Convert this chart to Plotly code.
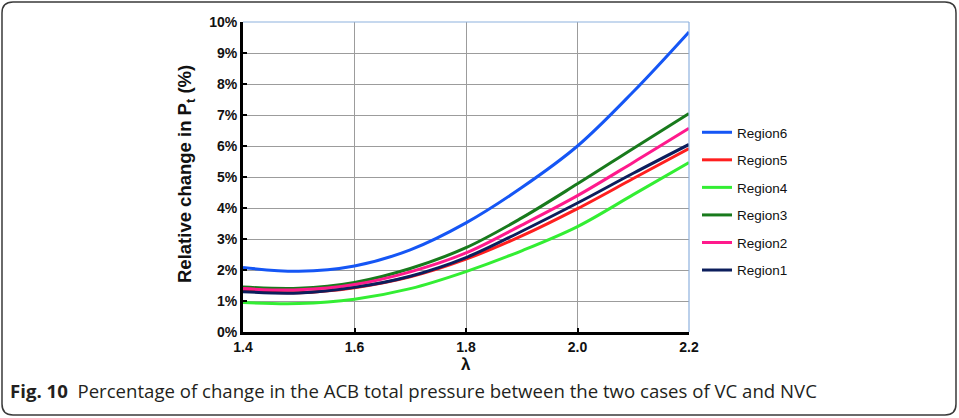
import plotly.graph_objects as go

# Blade loading ratio (lambda) and relative change in total pressure (%) per region
lam = [1.4, 1.5, 1.6, 1.7, 1.8, 1.9, 2.0, 2.1, 2.2]
region6 = [2.08, 1.96, 2.13, 2.65, 3.52, 4.66, 6.00, 7.75, 9.68]
region5 = [1.33, 1.27, 1.43, 1.78, 2.35, 3.10, 3.98, 4.95, 5.92]
region4 = [0.95, 0.92, 1.06, 1.40, 1.95, 2.62, 3.40, 4.43, 5.47]
region3 = [1.45, 1.41, 1.60, 2.05, 2.72, 3.68, 4.78, 5.92, 7.05]
region2 = [1.40, 1.36, 1.53, 1.94, 2.55, 3.45, 4.40, 5.47, 6.57]
region1 = [1.30, 1.26, 1.44, 1.80, 2.40, 3.25, 4.16, 5.12, 6.05]

names = ["Region6", "Region5", "Region4", "Region3", "Region2", "Region1"]
series = [region6, region5, region4, region3, region2, region1]
colors = ["#1556F5", "#FF1F1F", "#33EE33", "#187A1C", "#FF1A8C", "#0C1E5C"]

y_ticks = list(range(0, 11))
x_ticks = [1.4, 1.6, 1.8, 2.0, 2.2]

W, H = 959, 418
L, R, T, B = 243, 959 - 689, 22, 418 - 332
PW, PH = W - L - R, H - T - B


def px(x):
    return (x - L) / PW


def py(y):
    return (H - B - y) / PH


fig = go.Figure()
for i, (name, vals, col) in enumerate(zip(names, series, colors)):
    fig.add_trace(go.Scatter(
        x=lam, y=vals, name=name, mode="lines",
        line=dict(color=col, width=3, shape="spline", smoothing=1.0),
        legendgroup=name,
    ))

# rounded frame around the figure
x0, x1, y0, y1, r = 2, 956, 2, 415, 11
pts = [
    ("M", [(x0 + r, y0)]), ("L", [(x1 - r, y0)]), ("Q", [(x1, y0), (x1, y0 + r)]),
    ("L", [(x1, y1 - r)]), ("Q", [(x1, y1), (x1 - r, y1)]),
    ("L", [(x0 + r, y1)]), ("Q", [(x0, y1), (x0, y1 - r)]),
    ("L", [(x0, y0 + r)]), ("Q", [(x0, y0), (x0 + r, y0)]),
]
path = " ".join(c + " " + " ".join(f"{px(a):.5f},{py(b):.5f}" for a, b in p) for c, p in pts) + " Z"

shapes = [
    dict(type="path", xref="paper", yref="paper", path=path,
         line=dict(color="#3a3a3a", width=1.5), layer="below"),
    dict(type="line", xref="paper", yref="paper", x0=0, x1=1, y0=1, y1=1,
         line=dict(color="#8EB1DE", width=1.2)),
    dict(type="line", xref="paper", yref="paper", x0=1, x1=1, y0=0, y1=1,
         line=dict(color="#8EB1DE", width=1.2)),
]

axis_font = dict(family="Liberation Sans, Arial, sans-serif", size=14, color="#111")

fig.update_layout(
    width=W, height=H,
    margin=dict(l=L, r=R, t=T, b=B),
    paper_bgcolor="white", plot_bgcolor="white",
    showlegend=True,
    legend=dict(x=px(697), y=py(117), xanchor="left", yanchor="top",
                font=dict(family="Liberation Sans, Arial, sans-serif", size=13.5, color="#111"),
                tracegroupgap=7, bgcolor="rgba(0,0,0,0)"),
    xaxis=dict(range=[1.4, 2.2], tickvals=x_ticks, ticktext=[f"{v:.1f}" for v in x_ticks],
               showgrid=True, gridcolor="#9C9C9C", gridwidth=1,
               showline=True, linecolor="black", linewidth=3,
               ticks="inside", ticklen=4, tickwidth=2, tickcolor="black",
               tickfont=dict(axis_font, weight="bold"), zeroline=False, fixedrange=True),
    yaxis=dict(range=[0, 10], tickvals=y_ticks, ticktext=[f"{v}%" for v in y_ticks],
               showgrid=True, gridcolor="#9C9C9C", gridwidth=1,
               showline=True, linecolor="black", linewidth=3,
               ticks="inside", ticklen=4, tickwidth=2, tickcolor="black",
               tickfont=dict(axis_font, weight="bold"), zeroline=False, fixedrange=True),
    shapes=shapes,
    annotations=[
        dict(text="<b>Relative change in P<sub>t</sub> (%)</b>", textangle=-90,
             xref="paper", yref="paper", x=px(186), y=py(174),
             xanchor="center", yanchor="middle", showarrow=False,
             font=dict(family="Liberation Sans, Arial, sans-serif", size=18.5, color="#111")),
        dict(text="<b>λ</b>", xref="paper", yref="paper", x=px(466), y=py(364),
             xanchor="center", yanchor="middle", showarrow=False,
             font=dict(family="Liberation Sans, Arial, sans-serif", size=17, color="#111")),
        dict(text="<b>Fig. 10</b>  Percentage of change in the ACB total pressure between the two cases of VC and NVC",
             xref="paper", yref="paper", x=px(8), y=py(390),
             xanchor="left", yanchor="middle", showarrow=False,
             font=dict(family="Open Sans, sans-serif", size=18.6, color="#231F20")),
    ],
)

fig.write_html("out.html")
